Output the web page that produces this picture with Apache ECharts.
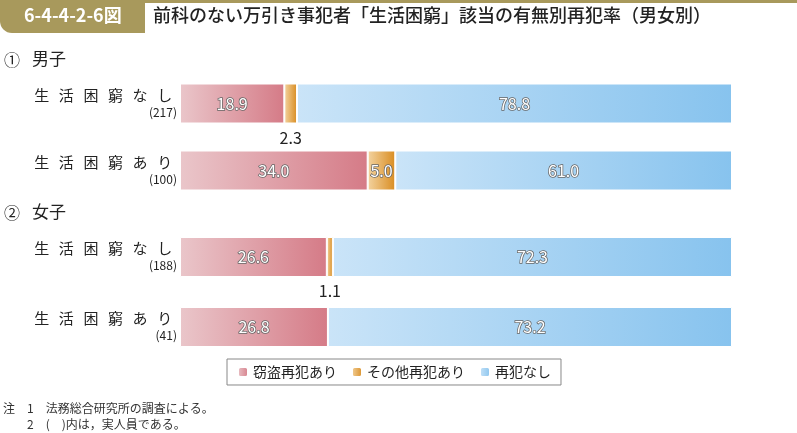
<!DOCTYPE html>
<html><head><meta charset="utf-8">
<script src="https://cdn.jsdelivr.net/npm/echarts@6/dist/echarts.min.js"></script>
<style>html,body{margin:0;padding:0;background:#fff}#c{width:797px;height:433px}</style>
</head><body><div id="c"></div>
<script>
var categories = ['生活困窮なし', '生活困窮あり'];
var maleCounts = [217, 100];
var femaleCounts = [188, 41];
var seriesNames = ['窃盗再犯あり', 'その他再犯あり', '再犯なし'];
var maleTheft = [18.9, 34.0];
var maleOther = [2.3, 5.0];
var maleNone = [78.8, 61.0];
var femaleTheft = [26.6, 26.8];
var femaleOther = [1.1, 0];
var femaleNone = [72.3, 73.2];

var FONT = '"Noto Sans CJK JP", "Noto Sans", sans-serif';
var grads = [
  ['#eac6ca', '#d57b87'],
  ['#f3d3a0', '#d98d22'],
  ['#cae4f8', '#87c3ee']
];
function grad(i) {
  return new echarts.graphic.LinearGradient(0, 0, 1, 0, [
    {offset: 0, color: grads[i][0]}, {offset: 1, color: grads[i][1]}]);
}
function makeData(vals) {
  return vals.map(function (v) {
    if (v === 0) return {value: v, label: {show: false}};
    if (v < 3) return {value: v, label: {position: 'bottom', distance: 6, color: '#222', textBorderWidth: 0}};
    return v;
  });
}
function yLabel(counts) {
  return function (val, idx) {
    var chars = val.split('').map(function (c) { return '{c|' + c + '}'; }).join('');
    return chars + '\n{n|(' + counts[idx] + ')}';
  };
}
var rich = {
  c: {width: 24.6, align: 'center', fontSize: 15, color: '#222', fontFamily: FONT, lineHeight: 17},
  n: {fontSize: 12, color: '#222', fontFamily: FONT, align: 'right', lineHeight: 17}
};
var groups = [[maleTheft, maleOther, maleNone], [femaleTheft, femaleOther, femaleNone]];
var series = [];
groups.forEach(function (g, gi) {
  g.forEach(function (vals, si) {
    series.push({
      name: seriesNames[si], type: 'bar', stack: 's' + gi,
      xAxisIndex: gi, yAxisIndex: gi, barWidth: 40,
      itemStyle: {color: grad(si), borderColor: '#fff', borderWidth: 1},
      label: {show: true, position: 'inside', fontSize: 16, fontFamily: FONT,
        color: '#fff', textBorderColor: '#666', textBorderWidth: 1.5,
        formatter: function (p) { return p.value.toFixed(1); }},
      data: makeData(vals)
    });
  });
});

var chart = echarts.init(document.getElementById('c'), null, {renderer: 'canvas'});
chart.setOption({
  animation: false,
  textStyle: {fontFamily: FONT},
  grid: [
    {left: 180, right: 65, top: 70, height: 134},
    {left: 180, right: 65, top: 222, height: 140}
  ],
  xAxis: [
    {gridIndex: 0, type: 'value', min: 0, max: 100, show: false},
    {gridIndex: 1, type: 'value', min: 0, max: 100, show: false}
  ],
  yAxis: [
    {gridIndex: 0, type: 'category', inverse: true, data: categories,
     axisLine: {show: false}, axisTick: {show: false},
     axisLabel: {margin: 3, formatter: yLabel(maleCounts), rich: rich}},
    {gridIndex: 1, type: 'category', inverse: true, data: categories,
     axisLine: {show: false}, axisTick: {show: false},
     axisLabel: {margin: 3, formatter: yLabel(femaleCounts), rich: rich}}
  ],
  legend: {
    data: seriesNames, left: 227, top: 359, orient: 'horizontal',
    itemWidth: 10, itemHeight: 10, itemGap: 14,
    borderColor: '#888', borderWidth: 1, padding: [6, 10, 6, 10],
    textStyle: {fontSize: 14, color: '#222', fontFamily: FONT}
  },
  graphic: [
    {type: 'rect', shape: {x: 0, y: 0, width: 797, height: 3}, style: {fill: '#a8995c'}},
    {type: 'rect', shape: {x: 0, y: 0, width: 145, height: 33, r: [0, 0, 0, 12]}, style: {fill: '#a8995c'}},
    {type: 'text', left: 24, top: 6, style: {text: '6-4-4-2-6図', fill: '#fff', font: 'bold 18px ' + FONT}},
    {type: 'text', left: 153, top: 6, style: {text: '前科のない万引き事犯者「生活困窮」該当の有無別再犯率（男女別）', fill: '#222', font: '500 18px ' + FONT}},
    {type: 'text', left: 4, top: 52, style: {text: '①', fill: '#222', font: '16px ' + FONT}},
    {type: 'text', left: 32, top: 50, style: {text: '男子', fill: '#222', font: '17px ' + FONT}},
    {type: 'text', left: 4, top: 205, style: {text: '②', fill: '#222', font: '16px ' + FONT}},
    {type: 'text', left: 32, top: 203, style: {text: '女子', fill: '#222', font: '17px ' + FONT}},
    {type: 'text', left: 3, top: 402, style: {text: '注　1　法務総合研究所の調査による。', fill: '#333', font: '12px ' + FONT}},
    {type: 'text', left: 27, top: 418, style: {text: '2　(　)内は，実人員である。', fill: '#333', font: '12px ' + FONT}}
  ],
  series: series
});
</script></body></html>
